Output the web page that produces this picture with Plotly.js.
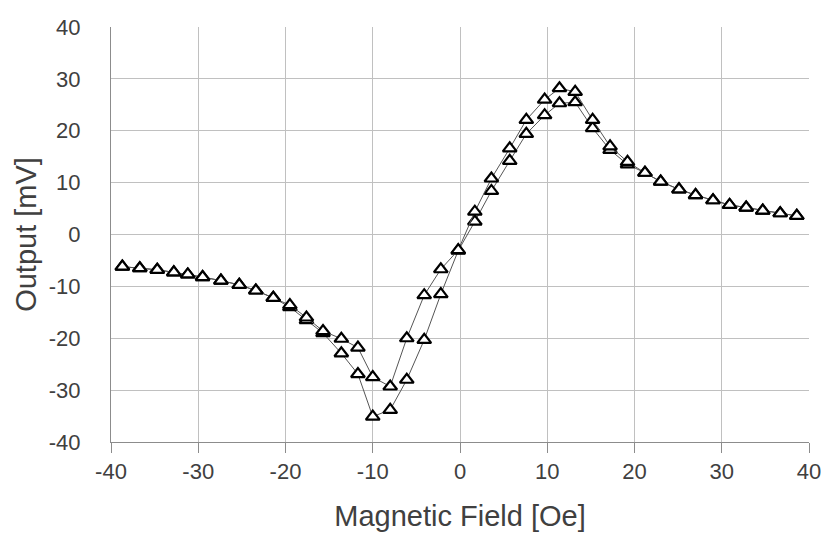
<!DOCTYPE html>
<html>
<head>
<meta charset="utf-8">
<script src="https://cdn.plot.ly/plotly-3.0.1.min.js"></script>
<style>html,body{margin:0;padding:0;background:#fff;}#chart{width:833px;height:540px;}</style>
</head>
<body>
<div id="chart"></div>
<script>
// Magnetic field [Oe]
const field = [-38.7,-36.7,-34.7,-32.8,-31.2,-29.5,-27.4,-25.3,-23.4,-21.4,-19.5,-17.6,-15.7,
  -13.6,-11.7,-10.0,-8.0,-6.1,-4.1,-2.2,-0.2,1.7,3.6,5.7,7.6,9.7,11.4,13.2,15.2,17.2,19.2,
  21.2,23.0,25.1,27.0,29.0,30.9,32.8,34.7,36.7,38.6];
// Output [mV], branch 1
const outputA = [-6.2,-6.5,-6.8,-7.3,-7.7,-8.2,-8.9,-9.7,-10.8,-12.2,-14.0,-16.5,-19.0,
  -22.9,-26.9,-35.1,-33.8,-28.0,-20.3,-11.5,-3.1,2.5,8.4,14.2,19.4,23.0,25.3,25.5,20.5,16.3,13.5,
  11.9,10.2,8.7,7.6,6.6,5.7,5.2,4.6,4.1,3.6];
// Output [mV], branch 2
const outputB = [-6.2,-6.5,-6.8,-7.3,-7.7,-8.2,-8.9,-9.7,-10.8,-12.2,-13.6,-16.0,-18.6,
  -20.1,-21.8,-27.5,-29.3,-20.0,-11.7,-6.7,-3.0,4.4,10.8,16.6,22.1,26.0,28.2,27.5,22.1,17.0,14.0,
  11.9,10.2,8.7,7.6,6.6,5.7,5.2,4.6,4.1,3.6];
const xTicks = [-40,-30,-20,-10,0,10,20,30,40];
const yTicks = [-40,-30,-20,-10,0,10,20,30,40];

const FONT = 'Liberation Sans, Arial, sans-serif';
function trace(y){
  return {x: field, y: y, type:'scatter', mode:'lines+markers',
    line:{color:'#555555', width:1},
    marker:{symbol:'triangle-up', size:12, color:'#ffffff', line:{color:'#000000', width:2.2}},
    showlegend:false, hoverinfo:'x+y'};
}
const layout = {
  width:833, height:540,
  margin:{l:111, r:24, t:27, b:98},
  paper_bgcolor:'#ffffff', plot_bgcolor:'#ffffff',
  font:{family:FONT, color:'#404040'},
  xaxis:{range:[-40,40], tickvals:xTicks, ticktext:xTicks.map(String),
    showgrid:true, gridcolor:'#c0c0c0', gridwidth:1, zeroline:false,
    showline:true, linecolor:'#8c8c8c', linewidth:1, mirror:false,
    ticks:'outside', ticklen:10, tickcolor:'#8c8c8c', tickwidth:1,
    tickfont:{family:FONT, size:22, color:'#404040'},
    title:{text:'Magnetic Field [Oe]', font:{family:FONT, size:29, color:'#404040'}, standoff:22}},
  yaxis:{range:[-40,40], tickvals:yTicks, ticktext:yTicks.map(String),
    showgrid:true, gridcolor:'#c0c0c0', gridwidth:1, zeroline:false,
    showline:true, linecolor:'#8c8c8c', linewidth:1,
    ticks:'', ticklabelstandoff:25,
    tickfont:{family:FONT, size:22, color:'#404040'},
    title:{text:'Output [mV]', font:{family:FONT, size:29, color:'#404040'}, standoff:3}}
};
Plotly.newPlot('chart', [trace(outputA), trace(outputB)], layout, {displayModeBar:false, staticPlot:true});
</script>
</body>
</html>
